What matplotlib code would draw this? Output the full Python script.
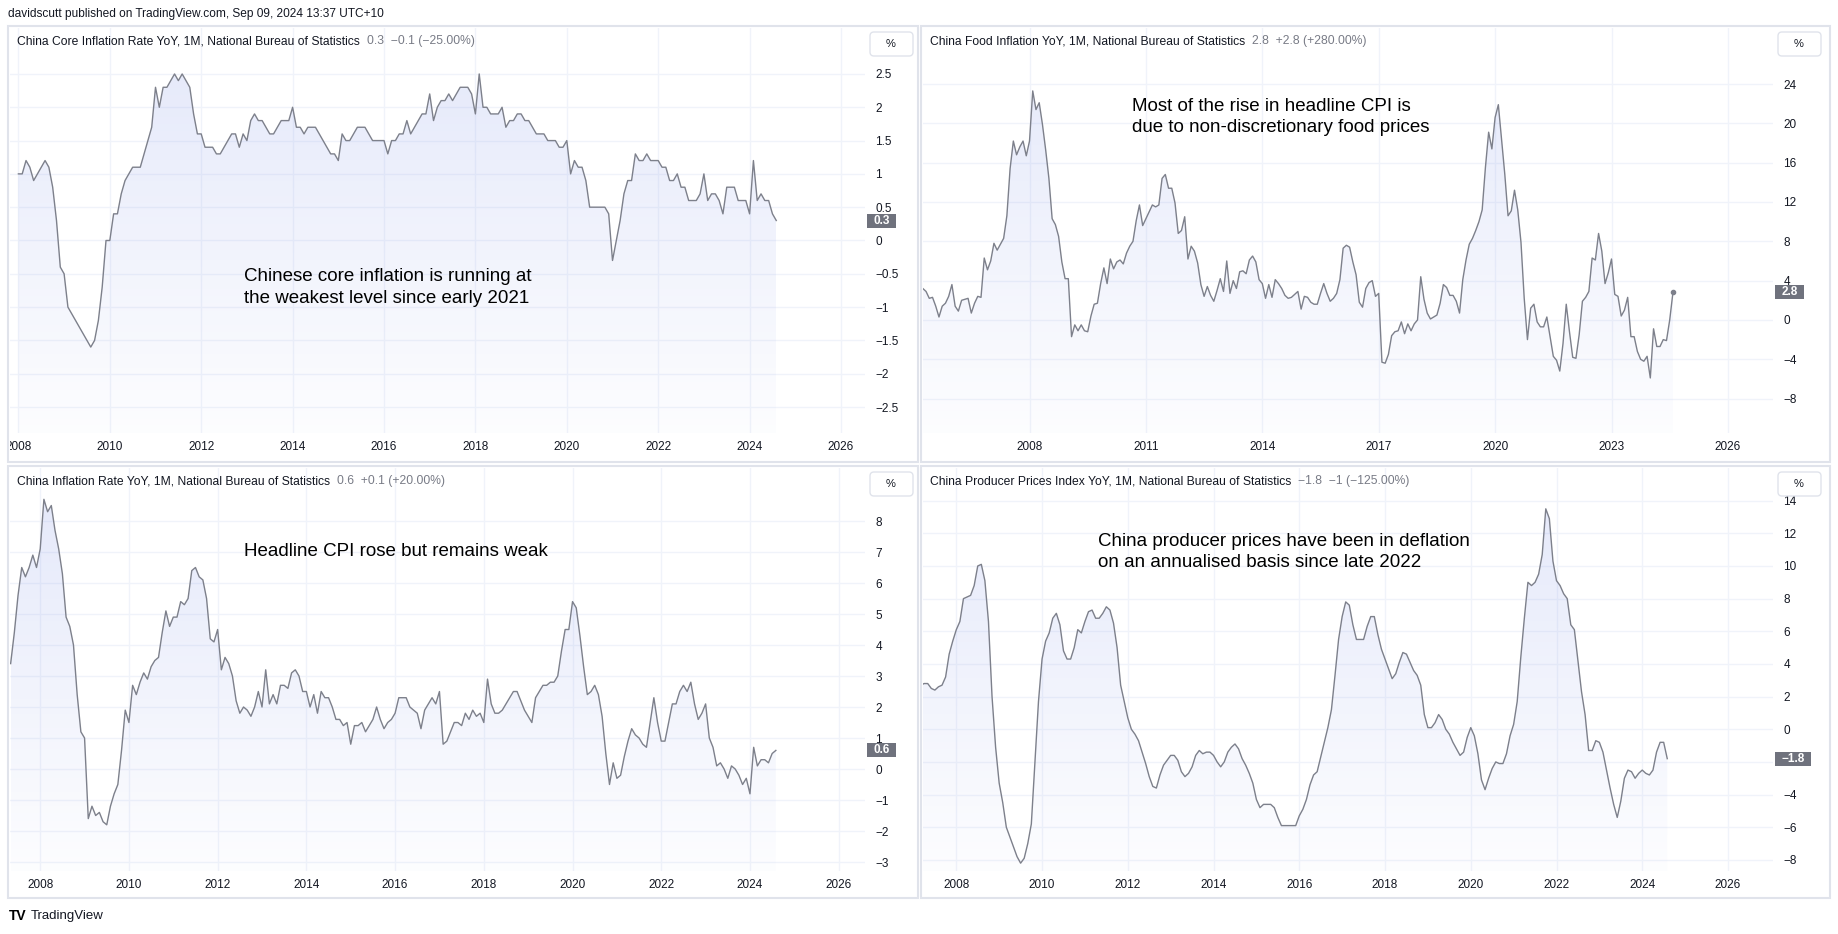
import numpy as np
import matplotlib
matplotlib.use('Agg')
import matplotlib.pyplot as plt
from matplotlib import transforms
from matplotlib.patches import Rectangle, FancyBboxPatch

plt.rcParams['font.family'] = ['Liberation Sans', 'DejaVu Sans']

W, H = 1838, 934

# monthly YoY %
core_start = (2008, 1)
core = [
    1.0, 1.0, 1.2, 1.1, 0.9, 1.0, 1.1, 1.2, 1.1, 0.8, 0.3, -0.4,
    -0.5, -1.0, -1.1, -1.2, -1.3, -1.4, -1.5, -1.6, -1.5, -1.2, -0.7, 0.0,
    0.0, 0.4, 0.4, 0.7, 0.9, 1.0, 1.1, 1.1, 1.1, 1.3, 1.5, 1.7,
    2.3, 2.0, 2.3, 2.3, 2.4, 2.5, 2.4, 2.5, 2.4, 2.3, 1.9, 1.6,
    1.6, 1.4, 1.4, 1.4, 1.3, 1.3, 1.4, 1.5, 1.6, 1.6, 1.4, 1.6,
    1.5, 1.8, 1.9, 1.8, 1.8, 1.7, 1.6, 1.6, 1.7, 1.8, 1.8, 1.8,
    2.0, 1.7, 1.7, 1.6, 1.7, 1.7, 1.7, 1.6, 1.5, 1.4, 1.3, 1.3,
    1.2, 1.6, 1.5, 1.5, 1.6, 1.7, 1.7, 1.7, 1.6, 1.5, 1.5, 1.5,
    1.5, 1.3, 1.5, 1.5, 1.6, 1.6, 1.8, 1.6, 1.7, 1.8, 1.9, 1.9,
    2.2, 1.8, 2.0, 2.1, 2.1, 2.2, 2.1, 2.2, 2.3, 2.3, 2.3, 2.2,
    1.9, 2.5, 2.0, 2.0, 1.9, 1.9, 1.9, 2.0, 1.7, 1.8, 1.8, 1.9,
    1.9, 1.8, 1.8, 1.7, 1.6, 1.6, 1.6, 1.5, 1.5, 1.5, 1.4, 1.4,
    1.5, 1.0, 1.2, 1.1, 1.1, 0.9, 0.5, 0.5, 0.5, 0.5, 0.5, 0.4,
    -0.3, 0.0, 0.3, 0.7, 0.9, 0.9, 1.3, 1.2, 1.2, 1.3, 1.2, 1.2,
    1.2, 1.1, 1.1, 0.9, 0.9, 1.0, 0.8, 0.8, 0.6, 0.6, 0.6, 0.7,
    1.0, 0.6, 0.7, 0.7, 0.6, 0.4, 0.8, 0.8, 0.8, 0.6, 0.6, 0.6,
    0.4, 1.2, 0.6, 0.7, 0.6, 0.6, 0.4, 0.3,
]

food_start = (2005, 4)
food = [
    3.2, 2.9, 2.2, 2.3, 1.4, 0.3, 1.4, 1.7, 2.4,
    3.6, 1.4, 0.9, 2.0, 2.1, 2.2, 0.7, 1.7, 2.4, 2.3, 6.3, 5.1,
    6.0, 7.8, 7.1, 7.7, 8.3, 10.6, 15.4, 18.2, 16.8, 17.6, 18.2, 16.7,
    18.2, 23.3, 21.4, 22.1, 19.9, 17.3, 14.4, 10.3, 9.7, 8.5, 5.9, 4.2,
    4.2, -1.7, -0.5, -1.1, -0.5, -1.1, -1.2, 0.4, 1.6, 1.7, 3.7, 5.3,
    3.7, 6.2, 5.2, 5.9, 6.1, 5.7, 6.8, 7.5, 8.0, 10.1, 11.7, 9.6,
    10.3, 11.0, 11.7, 11.5, 11.7, 14.4, 14.8, 13.4, 13.4, 11.9, 8.8, 9.1,
    10.5, 6.2, 7.5, 7.0, 5.8, 3.6, 2.4, 3.4, 2.5, 1.9, 3.0, 4.2,
    2.9, 6.0, 2.7, 4.0, 3.2, 4.9, 5.0, 4.7, 6.1, 6.5, 5.9, 4.1,
    3.7, 2.2, 3.6, 2.3, 4.1, 3.7, 3.2, 2.5, 2.2, 2.3, 2.6, 2.9,
    1.1, 2.4, 2.3, 1.8, 1.6, 1.6, 2.7, 3.7, 2.7, 1.9, 2.2, 2.7,
    4.1, 7.3, 7.6, 7.4, 5.9, 4.6, 1.8, 1.3, 3.2, 3.8, 4.0, 2.4,
    2.7, -4.3, -4.4, -3.5, -1.6, -1.2, -1.1, -0.2, -1.4, -0.4, -1.1, -0.4,
    0.0, 4.4, 2.1, 0.7, 0.1, 0.3, 0.5, 1.7, 3.6, 3.3, 2.5, 2.5,
    1.9, 0.7, 4.1, 6.1, 7.7, 8.3, 9.1, 10.0, 11.2, 15.5, 19.1, 17.4,
    20.6, 21.9, 18.3, 14.8, 10.6, 11.1, 13.2, 11.2, 7.9, 2.2, -2.0, 1.2,
    1.6, -0.2, -0.7, -0.7, 0.3, -1.7, -3.7, -4.1, -5.2, -2.4, 1.6, -1.2,
    -3.8, -3.9, -1.5, 1.9, 2.3, 2.9, 6.3, 6.1, 8.8, 7.0, 3.7, 4.8,
    6.2, 2.6, 2.4, 0.4, 1.0, 2.3, -1.7, -1.7, -3.2, -4.0, -4.2, -3.7,
    -5.9, -0.9, -2.7, -2.7, -2.0, -2.1, 0.0, 2.8,
]

cpi_start = (2007, 5)
cpi = [
    3.4, 4.4, 5.6, 6.5, 6.2, 6.5, 6.9, 6.5,
    7.1, 8.7, 8.3, 8.5, 7.7, 7.1, 6.3, 4.9, 4.6, 4.0, 2.4, 1.2,
    1.0, -1.6, -1.2, -1.5, -1.4, -1.7, -1.8, -1.2, -0.8, -0.5, 0.6, 1.9,
    1.5, 2.7, 2.4, 2.8, 3.1, 2.9, 3.3, 3.5, 3.6, 4.4, 5.1, 4.6,
    4.9, 4.9, 5.4, 5.3, 5.5, 6.4, 6.5, 6.2, 6.1, 5.5, 4.2, 4.1,
    4.5, 3.2, 3.6, 3.4, 3.0, 2.2, 1.8, 2.0, 1.9, 1.7, 2.0, 2.5,
    2.0, 3.2, 2.1, 2.4, 2.1, 2.7, 2.7, 2.6, 3.1, 3.2, 3.0, 2.5,
    2.5, 2.0, 2.4, 1.8, 2.5, 2.3, 2.3, 2.0, 1.6, 1.6, 1.4, 1.5,
    0.8, 1.4, 1.4, 1.5, 1.2, 1.4, 1.6, 2.0, 1.6, 1.3, 1.5, 1.6,
    1.8, 2.3, 2.3, 2.3, 2.0, 1.9, 1.8, 1.3, 1.9, 2.1, 2.3, 2.1,
    2.5, 0.8, 0.9, 1.2, 1.5, 1.5, 1.4, 1.8, 1.6, 1.9, 1.7, 1.8,
    1.5, 2.9, 2.1, 1.8, 1.8, 1.9, 2.1, 2.3, 2.5, 2.5, 2.2, 1.9,
    1.7, 1.5, 2.3, 2.5, 2.7, 2.7, 2.8, 2.8, 3.0, 3.8, 4.5, 4.5,
    5.4, 5.2, 4.3, 3.3, 2.4, 2.5, 2.7, 2.4, 1.7, 0.5, -0.5, 0.2,
    -0.3, -0.2, 0.4, 0.9, 1.3, 1.1, 1.0, 0.8, 0.7, 1.5, 2.3, 1.5,
    0.9, 0.9, 1.5, 2.1, 2.1, 2.5, 2.7, 2.5, 2.8, 2.1, 1.6, 1.8,
    2.1, 1.0, 0.7, 0.1, 0.2, 0.0, -0.3, 0.1, 0.0, -0.2, -0.5, -0.3,
    -0.8, 0.7, 0.1, 0.3, 0.3, 0.2, 0.5, 0.6,
]

ppi_start = (2007, 3)
ppi = [
    2.7, 2.8, 2.8, 2.5, 2.4, 2.6, 2.7, 3.2, 4.6, 5.4,
    6.1, 6.6, 8.0, 8.1, 8.2, 8.8, 10.0, 10.1, 9.1, 6.6, 2.0, -1.1,
    -3.3, -4.5, -6.0, -6.6, -7.2, -7.8, -8.2, -7.9, -7.0, -5.8, -2.1, 1.7,
    4.3, 5.4, 5.9, 6.8, 7.1, 6.4, 4.8, 4.3, 4.3, 5.0, 6.1, 5.9,
    6.6, 7.2, 7.3, 6.8, 6.8, 7.1, 7.5, 7.3, 6.5, 5.0, 2.7, 1.7,
    0.7, 0.0, -0.3, -0.7, -1.4, -2.1, -2.9, -3.5, -3.6, -2.8, -2.2, -1.9,
    -1.6, -1.6, -1.9, -2.6, -2.9, -2.7, -2.3, -1.6, -1.3, -1.5, -1.4, -1.4,
    -1.6, -2.0, -2.3, -2.0, -1.4, -1.1, -0.9, -1.2, -1.8, -2.2, -2.7, -3.3,
    -4.3, -4.8, -4.6, -4.6, -4.6, -4.8, -5.4, -5.9, -5.9, -5.9, -5.9, -5.9,
    -5.3, -4.9, -4.3, -3.4, -2.8, -2.6, -1.7, -0.8, 0.1, 1.2, 3.3, 5.5,
    6.9, 7.8, 7.6, 6.4, 5.5, 5.5, 5.5, 6.3, 6.9, 6.9, 5.8, 4.9,
    4.3, 3.7, 3.1, 3.4, 4.1, 4.7, 4.6, 4.1, 3.6, 3.3, 2.7, 0.9,
    0.1, 0.1, 0.4, 0.9, 0.6, 0.0, -0.3, -0.8, -1.2, -1.6, -1.4, -0.5,
    0.1, -0.4, -1.5, -3.1, -3.7, -3.0, -2.4, -2.0, -2.1, -2.1, -1.5, -0.4,
    0.3, 1.7, 4.4, 6.8, 9.0, 8.8, 9.0, 9.5, 10.7, 13.5, 12.9, 10.3,
    9.1, 8.8, 8.3, 8.0, 6.4, 6.1, 4.2, 2.3, 0.9, -1.3, -1.3, -0.7,
    -0.8, -1.4, -2.5, -3.6, -4.6, -5.4, -4.4, -3.0, -2.5, -2.6, -3.0, -2.7,
    -2.5, -2.7, -2.8, -2.5, -1.4, -0.8, -0.8, -1.8,
]

years_2 = [2008, 2010, 2012, 2014, 2016, 2018, 2020, 2022, 2024, 2026]
years_3 = [2008, 2011, 2014, 2017, 2020, 2023, 2026]
core_ticks = [-2.5, -2, -1.5, -1, -0.5, 0, 0.5, 1, 1.5, 2, 2.5]
food_ticks = [-8, -4, 0, 4, 8, 12, 16, 20, 24]
cpi_ticks = [-3, -2, -1, 0, 1, 2, 3, 4, 5, 6, 7, 8]
ppi_ticks = [-8, -6, -4, -2, 0, 2, 4, 6, 8, 10, 12, 14]

header = 'davidscutt published on TradingView.com, Sep 09, 2024 13:37 UTC+10'

line_c = '#7d808b'
fill_rgb = (0.55, 0.62, 0.92)
text_c = '#131722'
grid_c = '#f0f3fa'
border_c = '#e0e3eb'

fig = plt.figure(figsize=(W / 100, H / 100), dpi=100)
fig.patch.set_facecolor('white')
px = transforms.IdentityTransform()


def fmt(v):
    return f'{v:g}'.replace('-', '\u2212')


def panel(pane, border, start, vals, xlim, ylim, xt, yt, title, legend,
          last, last_w, note, note_xy, dot=False, hidden=()):
    l, t, r, b = pane
    ax = fig.add_axes([l / W, 1 - b / H, (r - l) / W, (b - t) / H])
    x = start[0] + (start[1] - 1 + np.arange(len(vals))) / 12
    y = np.array(vals)

    poly = ax.fill_between(x, y, ylim[0], color='none', lw=0)
    grad = np.zeros((200, 1, 4))
    grad[..., :3] = fill_rgb
    grad[:, 0, 3] = np.linspace(0.02, 0.24, 200)
    im = ax.imshow(grad, extent=[x[0], x[-1], ylim[0], ylim[1]],
                   origin='lower', aspect='auto', zorder=1)
    im.set_clip_path(poly.get_paths()[0], transform=ax.transData)
    ax.plot(x, y, color=line_c, lw=1.0, zorder=3)
    if dot:
        ax.plot(x[-1], y[-1], 'o', ms=3, color=line_c, zorder=4)

    ax.set_xlim(xlim)
    ax.set_ylim(ylim)
    ax.set_xticks(xt)
    ax.set_xticklabels([str(v) for v in xt])
    ax.set_yticks(yt)
    ax.set_yticklabels(['' if v in hidden else fmt(v) for v in yt])
    ax.yaxis.tick_right()
    ax.tick_params(axis='both', length=0, labelsize=8.5, colors=text_c)
    ax.tick_params(axis='x', pad=6)
    ax.tick_params(axis='y', pad=7.5)
    ax.grid(color=grid_c, lw=1)
    ax.set_axisbelow(True)
    for s in ax.spines.values():
        s.set_visible(False)
    clip = transforms.TransformedBbox(
        transforms.Bbox([[0, -0.2], [1.2, 0.1]]), ax.transAxes)
    for lbl in ax.get_xticklabels():
        lbl.set_clip_on(True)
        lbl.set_clip_box(clip)

    bl, bt, br, bb = border
    fig.add_artist(Rectangle((bl, H - bb), br - bl, bb - bt, transform=px,
                             fc='none', ec=border_c, lw=1.5, zorder=4))

    # percent button on the price scale
    fig.add_artist(FancyBboxPatch((r + 5, H - (t + 28)), 43, 24,
                                  boxstyle='round,pad=0,rounding_size=4',
                                  transform=px, fc='white', ec=border_c,
                                  lw=1, zorder=5))
    fig.text((r + 26) / W, 1 - (t + 16) / H, '%', fontsize=8, color=text_c,
             ha='center', va='center', zorder=6)

    # last value tag
    ppu = (b - t) / (ylim[1] - ylim[0])
    tr = transforms.blended_transform_factory(fig.transFigure, ax.transData)
    ax.add_patch(Rectangle(((r + 2) / W, y[-1] - 7 / ppu), last_w / W, 14 / ppu,
                           transform=tr, fc='#6f727d', ec='none',
                           clip_on=False, zorder=6))
    ax.text((r + 2 + last_w / 2) / W, y[-1], last, transform=tr, ha='center',
            va='center', color='white', fontsize=8.5, fontweight='bold',
            clip_on=False, zorder=7)

    tt = fig.text((l + 7) / W, 1 - (t + 13) / H, title, fontsize=8.7,
                  color=text_c, va='center')
    ax.annotate(legend, xy=(1, 0.5), xycoords=tt, xytext=(5, 0),
                textcoords='offset points', va='center', fontsize=8.7,
                color='#787b86')

    fig.text(note_xy[0] / W, 1 - note_xy[1] / H, note, fontsize=13.5,
             color='black', ha='left', va='center', linespacing=1.35)
    return ax


panel((10, 28, 865, 433), (8, 26, 918, 462), core_start, core,
      (2007.816, 2026.525), (-2.89, 3.19), years_2, core_ticks,
      'China Core Inflation Rate YoY, 1M, National Bureau of Statistics',
      '0.3  \u22120.1 (\u221225.00%)', '0.3', 29,
      'Chinese core inflation is running at\nthe weakest level since early 2021',
      (244, 287.5))

panel((923, 28, 1773, 433), (921, 26, 1830, 462), food_start, food,
      (2005.255, 2027.162), (-11.5, 29.7), years_3, food_ticks,
      'China Food Inflation YoY, 1M, National Bureau of Statistics',
      '2.8  +2.8 (+280.00%)', '2.8', 29,
      'Most of the rise in headline CPI is\ndue to non-discretionary food prices',
      (1132, 117.2), dot=True)

panel((10, 468, 865, 871), (8, 466, 918, 898), cpi_start, cpi,
      (2007.319, 2026.593), (-3.29, 9.71), years_2, cpi_ticks,
      'China Inflation Rate YoY, 1M, National Bureau of Statistics',
      '0.6  +0.1 (+20.00%)', '0.6', 29,
      'Headline CPI rose but remains weak', (244, 551.7))

panel((923, 468, 1773, 871), (921, 466, 1830, 898), ppi_start, ppi,
      (2007.223, 2027.05), (-8.68, 16.0), years_2, ppi_ticks,
      'China Producer Prices Index YoY, 1M, National Bureau of Statistics',
      '\u22121.8  \u22121 (\u2212125.00%)', '\u22121.8', 36,
      'China producer prices have been in deflation\non an annualised basis since late 2022',
      (1098, 552.2), hidden=(-2,))

fig.text(8 / W, 1 - 14 / H, header, fontsize=8.6, color=text_c, va='center')
fig.text(9 / W, 1 - 916 / H, 'TV', fontsize=10, fontweight='bold',
         color='black', va='center')
fig.text(31 / W, 1 - 916 / H, 'TradingView', fontsize=9.5, color=text_c,
         va='center')

fig.savefig('out.png', dpi=100, facecolor='white')
